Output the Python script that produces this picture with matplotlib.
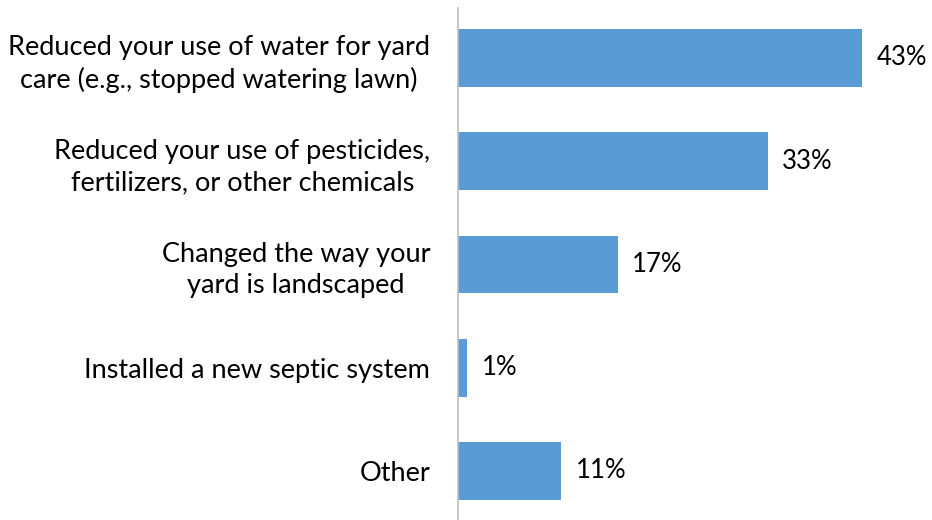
import matplotlib
matplotlib.use('Agg')
import matplotlib.pyplot as plt

categories = [
    'Reduced your use of water for yard\ncare (e.g., stopped watering lawn)',
    'Reduced your use of pesticides,\nfertilizers, or other chemicals',
    'Changed the way your\nyard is landscaped',
    'Installed a new septic system',
    'Other',
]
values = [43, 33, 17, 1, 11]

plt.rcParams['font.family'] = ['Lato', 'DejaVu Sans']

fig = plt.figure(figsize=(9.32, 5.20), dpi=100)
ax = fig.add_axes([458 / 932, 0, (928 - 458) / 932, 1 - 8 / 520])

ypos = list(range(len(categories)))
ax.barh(ypos, values, height=0.56, color='#5B9BD5')

for y, v in zip(ypos, values):
    ax.text(v + 1.5, y, f'{v}%', va='center', ha='left', fontsize=18.5, color='black')

ax.set_xlim(0, 50)
ax.set_ylim(4.475, -0.484)
ax.set_yticks(ypos)
ax.set_yticklabels(categories, fontsize=19.5, multialignment='center', linespacing=1.32)
ax.tick_params(axis='y', length=0, pad=20)
ax.set_xticks([])

for s in ['top', 'right', 'bottom']:
    ax.spines[s].set_visible(False)
ax.spines['left'].set_color('#BFBFBF')
ax.spines['left'].set_linewidth(1.2)

fig.savefig('out.png', dpi=100)
